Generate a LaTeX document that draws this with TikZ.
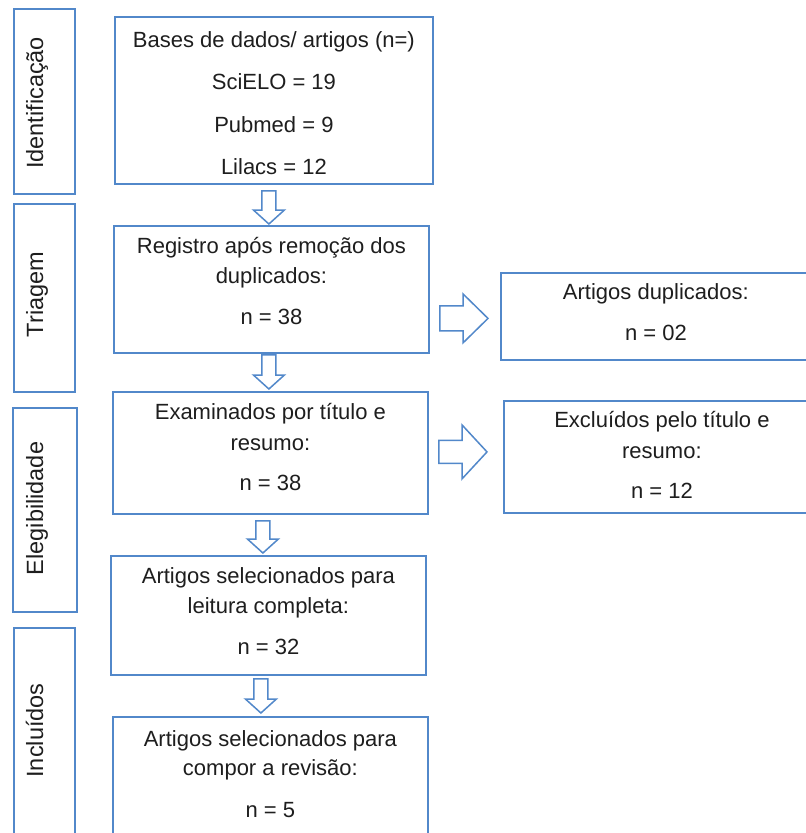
\documentclass[tikz,border=0pt]{standalone}
\usepackage{fontspec}
\setmainfont{Liberation Sans}
\usetikzlibrary{calc}
\definecolor{bblue}{RGB}{82,136,202}
\definecolor{ink}{RGB}{30,30,30}
\newcommand{\varrowblk}[2]{\draw[blockarrow] let \p1=(#1), \p2=(#2) in
  (\x1-7pt,\y1) -- (\x1+7pt,\y1) -- (\x1+7pt,\y2+14pt) -- (\x1+15.5pt,\y2+14pt) --
  (\x1,\y2) -- (\x1-15.5pt,\y2+14pt) -- (\x1-7pt,\y2+14pt) -- cycle;}
\newcommand{\harrowblk}[4]{\draw[blockarrow] let \p1=(#1), \p2=(#2) in
  (\x1,\y1+#3) -- (\x2-25pt,\y1+#3) -- (\x2-25pt,\y1+#4) -- (\x2,\y1) --
  (\x2-25pt,\y1-#4) -- (\x2-25pt,\y1-#3) -- (\x1,\y1-#3) -- cycle;}
\newcommand{\tline}[4]{\node[txt] (#1) at (#2.center |- 0,#3) {#4};}
\begin{document}
\begin{tikzpicture}[x=1pt,y=-1pt,
  box/.style={draw=bblue,line width=1.8pt,rectangle,inner sep=0pt,anchor=north west},
  txt/.style={text=ink,font=\fontsize{22}{26}\selectfont,inner sep=0pt,anchor=base},
  lbl/.style={text=ink,font=\fontsize{23.5}{28}\selectfont,inner sep=0pt,anchor=base,rotate=90},
  blockarrow/.style={draw=bblue,line width=1.5pt,fill=white,line join=miter}]
\useasboundingbox (0,0) rectangle (806,833);
\clip (0,0) rectangle (806,833);
\fill[white] (0,0) rectangle (806,833);

% stage boxes
\node[box,minimum width=61pt,minimum height=185pt] (id) at (13,8) {};
\node[box,minimum width=61pt,minimum height=188pt] (tr) at (13,203) {};
\node[box,minimum width=64pt,minimum height=204pt] (el) at (12,407) {};
\node[box,minimum width=61pt,minimum height=210pt] (inc) at (13,627) {};
\node[lbl] (lid) at (43,103) {Identificação};
\node[lbl] (ltr) at (43,294.5) {Triagem};
\node[lbl] (lel) at (43,508.5) {Elegibilidade};
\node[lbl] (linc) at (43,730.5) {Incluídos};

% main boxes
\node[box,minimum width=318pt,minimum height=167pt] (b1) at (114,16) {};
\node[box,minimum width=315pt,minimum height=127pt] (b2) at (113,225) {};
\node[box,minimum width=315pt,minimum height=122pt] (b3) at (112,391) {};
\node[box,minimum width=315pt,minimum height=119pt] (b4) at (110,555) {};
\node[box,minimum width=315pt,minimum height=140pt] (b5) at (112,716) {};
\node[box,minimum width=310pt,minimum height=87pt] (dup) at (500,272) {};
\node[box,minimum width=316pt,minimum height=112pt] (exc) at (503,400) {};

\tline{t1a}{b1}{47}{Bases de dados/ artigos (n=)}
\tline{t1b}{b1}{89}{SciELO = 19}
\tline{t1c}{b1}{132}{Pubmed = 9}
\tline{t1d}{b1}{174}{Lilacs = 12}

\tline{t2a}{b2}{253}{Registro após remoção dos}
\tline{t2b}{b2}{283}{duplicados:}
\tline{t2c}{b2}{324}{n = 38}

\tline{t3a}{b3}{419}{Examinados por título e}
\tline{t3b}{b3}{450}{resumo:}
\tline{t3c}{b3}{490}{n = 38}

\tline{t4a}{b4}{583}{Artigos selecionados para}
\tline{t4b}{b4}{613}{leitura completa:}
\tline{t4c}{b4}{654}{n = 32}

\tline{t5a}{b5}{746}{Artigos selecionados para}
\tline{t5b}{b5}{775}{compor a revisão:}
\tline{t5c}{b5}{817}{n = 5}

\tline{tda}{dup}{299}{Artigos duplicados:}
\tline{tdb}{dup}{340}{n = 02}

\tline{tea}{exc}{427}{Excluídos pelo título e}
\tline{teb}{exc}{458}{resumo:}
\tline{tec}{exc}{498}{n = 12}

% block arrows
\varrowblk{[xshift=-5pt,yshift=-6pt]b1.south}{[yshift=1pt]b2.north}
\varrowblk{[xshift=-2.5pt,yshift=-1pt]b2.south}{[yshift=2pt]b3.north}
\varrowblk{[xshift=-7.5pt,yshift=-6pt]b3.south}{[yshift=2pt]b4.north}
\varrowblk{[xshift=-7.5pt,yshift=-3pt]b4.south}{[yshift=3pt]b5.north}
\harrowblk{[xshift=10pt,yshift=-29pt]b2.east}{[xshift=-12pt]dup.west}{12.5pt}{24.5pt}
\harrowblk{[xshift=10pt,yshift=1pt]b3.east}{[xshift=-16pt]exc.west}{11.5pt}{27pt}
\end{tikzpicture}
\end{document}
